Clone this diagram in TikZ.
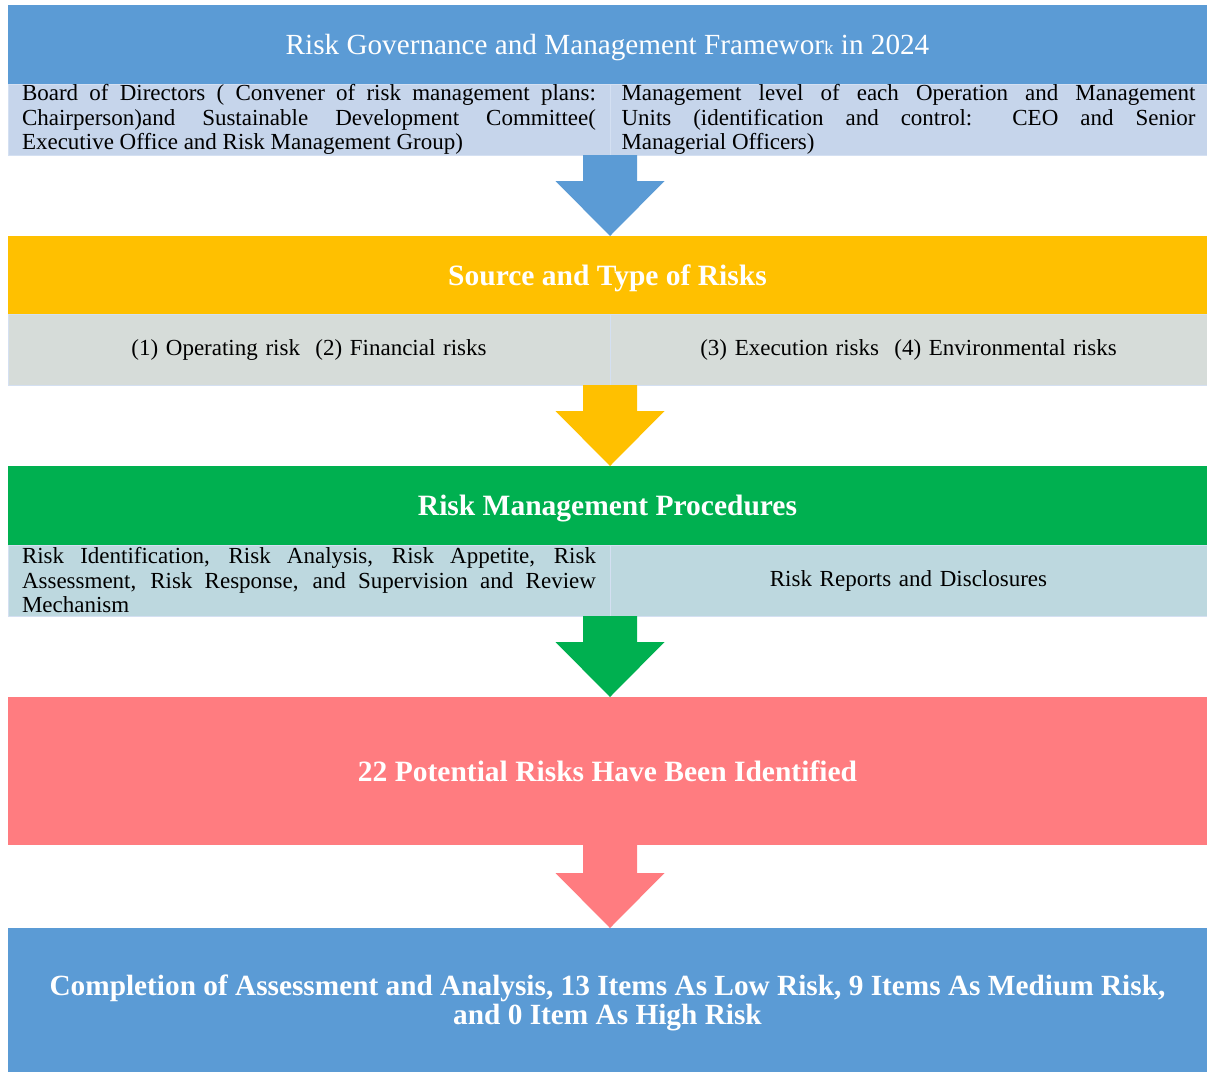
\documentclass[tikz,border=0pt]{standalone}
\usepackage{fontspec}
\setmainfont{Liberation Serif}
\usepackage{xcolor}
\usepackage{tikz}
\usetikzlibrary{calc}

\definecolor{govblue}{HTML}{5B9BD5}
\definecolor{govcell}{HTML}{C6D5EB}
\definecolor{srcyellow}{HTML}{FFC000}
\definecolor{srccell}{HTML}{D6DCD9}
\definecolor{procgreen}{HTML}{00B050}
\definecolor{proccell}{HTML}{BDD8DF}
\definecolor{idred}{HTML}{FF7C80}
\definecolor{celledge}{HTML}{D4E0F2}

\tikzset{
	band/.style={rectangle,inner sep=0pt,outer sep=0pt,minimum width=1199pt,text=white,align=center,text depth=0pt},
	cell/.style={rectangle,inner sep=0pt,outer sep=0pt,draw=celledge,line width=1pt,minimum height=71pt,text width=574pt,
		font=\fontsize{23}{24.5}\selectfont},
	just/.style={align=justify},
	mid/.style={align=center},
}

% down arrow from a start point to the top of the next band
\newcommand{\flowarrow}[3]{%
	\path (#1) coordinate (a1) (a1 |- #2.north) coordinate (a2);
	\fill[#3] ($(a1)+(-27,0)$) -- ($(a1)+(27,0)$) -- ($(a2)+(27,-55)$) -- ($(a2)+(54.5,-55)$)
		-- (a2) -- ($(a2)+(-54.5,-55)$) -- ($(a2)+(-27,-55)$) -- cycle;
}

\begin{document}
\begin{tikzpicture}[x=1pt,y=-1pt]
		\useasboundingbox (0,0) rectangle (1207,1072);
		% governance
		\node[band,fill=govblue,minimum height=79pt,font=\fontsize{29.2}{32}\selectfont] (gov) at (607.5,44.5)
			{Risk Governance and Management Framewor{\fontsize{19}{20}\selectfont k} in 2024};
		\node[cell,fill=govcell,minimum width=602pt,just] (govL) at (309,119.5)
			{Board of Directors ( Convener of risk management plans:\linebreak Chairperson)and Sustainable Development Committee(\linebreak Executive Office and Risk Management Group)};
		\node[cell,fill=govcell,minimum width=597pt,just] (govR) at (908.5,119.5)
			{Management level of each Operation and Management\linebreak Units (identification and control: CEO and Senior\linebreak Managerial Officers)};
		% sources
		\node[band,fill=srcyellow,minimum height=78pt,font=\fontsize{29.5}{32}\bfseries] (src) at (607.5,275)
			{Source and Type of Risks};
		\node[cell,fill=srccell,minimum width=602pt,mid] (srcL) at (309,349.5)
			{(1) Operating risk~ (2) Financial risks};
		\node[cell,fill=srccell,minimum width=597pt,mid] (srcR) at (908.5,349.5)
			{(3) Execution risks~ (4) Environmental risks};
		% procedures
		\node[band,fill=procgreen,minimum height=79pt,font=\fontsize{29.5}{32}\bfseries] (proc) at (607.5,505.5)
			{Risk Management Procedures};
		\node[cell,fill=proccell,minimum width=602pt,just] (procL) at (309,580.5)
			{Risk Identification, Risk Analysis, Risk Appetite, Risk\linebreak Assessment, Risk Response, and Supervision and Review\linebreak Mechanism};
		\node[cell,fill=proccell,minimum width=597pt,mid] (procR) at (908.5,580.5)
			{Risk Reports and Disclosures};
		% results
		\node[band,fill=idred,minimum height=148pt,font=\fontsize{29.5}{32}\bfseries] (ident) at (607.5,771)
			{22 Potential Risks Have Been Identified};
		\node[band,fill=govblue,minimum height=144pt,font=\fontsize{29.3}{29}\bfseries] (done) at (607.5,1000)
			{Completion of Assessment and Analysis, 13 Items As Low Risk, 9 Items As Medium Risk,\\ and 0 Item As High Risk};
		\coordinate (identout) at (ident.south -| govL.east);

		\flowarrow{govL.south east}{src}{govblue}
		\flowarrow{srcL.south east}{proc}{srcyellow}
		\flowarrow{procL.south east}{ident}{procgreen}
		\flowarrow{identout}{done}{idred}
	\end{tikzpicture}
\end{document}
